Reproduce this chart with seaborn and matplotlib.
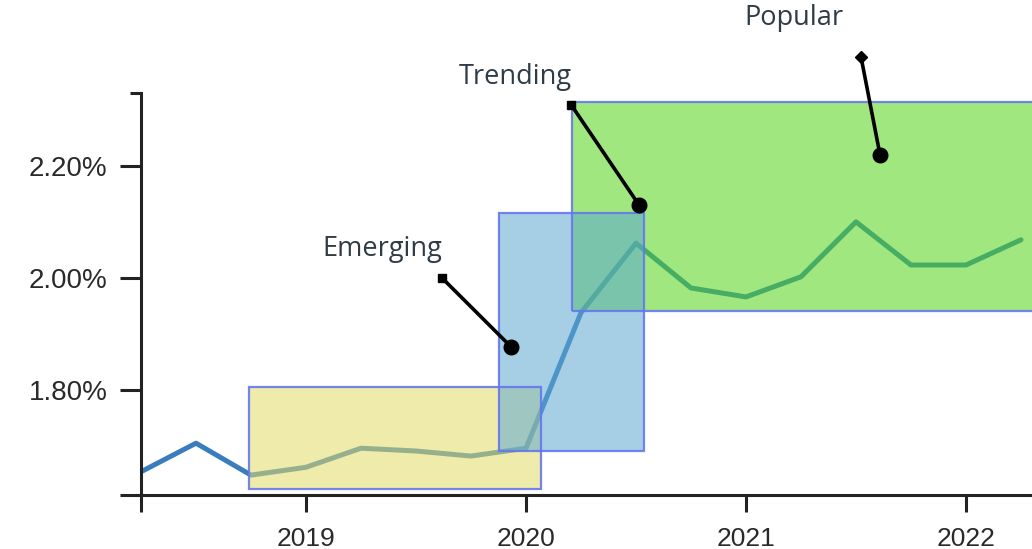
from matplotlib import pyplot as plt
from matplotlib.patches import Rectangle
from matplotlib.ticker import FuncFormatter
import pandas as pd
import seaborn as sns

# quarterly share of searches (%)
quarters = [2018.25, 2018.5, 2018.75, 2019.0, 2019.25, 2019.5, 2019.75, 2020.0, 2020.25,
            2020.5, 2020.75, 2021.0, 2021.25, 2021.5, 2021.75, 2022.0, 2022.25]
share = [1.654, 1.705, 1.648, 1.662, 1.696, 1.691, 1.682, 1.696, 1.938,
         2.062, 1.982, 1.966, 2.002, 2.100, 2.023, 2.023, 2.068]

# lifecycle stages: name, x-range, y-range
stages = ["Emerging", "Popular", "Trending"]
stage_x0 = [2018.74, 2020.209, 2019.877]
stage_x1 = [2020.07, 2022.6, 2020.536]
stage_y0 = [1.623, 1.941, 1.691]
stage_y1 = [1.805, 2.314, 2.116]

year_ticks = [2019, 2020, 2021, 2022]
year_labels = ["2019", "2020", "2021", "2022"]
pct_ticks = [1.80, 2.00, 2.20]

# layout / style for the stage boxes and callouts
stage_colors = {"Emerging": "#e3db66", "Popular": "#52d518", "Trending": "#5da8d2"}
callouts = {  # text pos, line start, line end, start marker
    "Emerging": ((2019.345, 2.052), (2019.618, 2.000), (2019.932, 1.877), "s"),
    "Trending": ((2019.95, 2.359), (2020.205, 2.309), (2020.514, 2.130), "s"),
    "Popular": ((2021.218, 2.464), (2021.523, 2.394), (2021.609, 2.220), "D"),
}

df = pd.DataFrame({"quarter": quarters, "share": share})

sns.set_style("ticks")
fig = plt.figure(figsize=(10.32, 5.49), dpi=100)
ax = fig.add_axes([141 / 1032, 54 / 549, 1 - 141 / 1032, (495 - 93) / 549])

sns.lineplot(data=df, x="quarter", y="share", ax=ax, color="#3a7dbd", linewidth=3.6, zorder=2)

for name, x0, x1, y0, y1 in zip(stages, stage_x0, stage_x1, stage_y0, stage_y1):
    ax.add_patch(Rectangle((x0, y0), x1 - x0, y1 - y0, facecolor=stage_colors[name],
                           alpha=0.55, edgecolor="none", zorder=3))
    ax.add_patch(Rectangle((x0, y0), x1 - x0, y1 - y0, facecolor="none",
                           edgecolor="#6577f0", linewidth=1.6, alpha=0.9, zorder=4))

for name, (txt, p0, p1, mk) in callouts.items():
    ax.plot([p0[0], p1[0]], [p0[1], p1[1]], color="black", linewidth=2.6,
            clip_on=False, zorder=5)
    ax.plot([p0[0]], [p0[1]], marker=mk, color="black", markersize=6 if mk == "s" else 6.5,
            clip_on=False, zorder=5)
    ax.plot([p1[0]], [p1[1]], marker="o", color="black", markersize=10.5,
            clip_on=False, zorder=5)
    ax.text(txt[0], txt[1], name, ha="center", va="center", fontsize=19.5,
            family="Open Sans", color="#2f3b45", clip_on=False)

ax.set_xlim(2018.25, 2018.25 + (1032 - 141) / 220)
ax.set_ylim(1.6125, 2.330)

ax.set_xticks([2018.25] + year_ticks)
ax.set_xticklabels([""] + year_labels)
ax.set_yticks([1.6125] + pct_ticks)
ax.yaxis.set_major_formatter(FuncFormatter(lambda v, p: "" if v < 1.7 else f"{v:.2f}%"))
ax.set_yticks([2.330], minor=True)

ax.tick_params(axis="x", length=12, width=2.2, color="#222222", pad=11,
               labelsize=19, labelcolor="#2a2a2a")
ax.tick_params(axis="y", length=15, width=2.2, color="#222222", pad=9,
               labelsize=20, labelcolor="#2a2a2a")
ax.tick_params(axis="y", which="minor", length=8, width=2.2, color="#222222")
for lab in ax.get_xticklabels() + ax.get_yticklabels():
    lab.set_family("Liberation Sans")

ax.set(xlabel="", ylabel="")
sns.despine(ax=ax)
for side in ["left", "bottom"]:
    ax.spines[side].set_linewidth(2.2)
    ax.spines[side].set_color("#222222")

plt.savefig("out.png", dpi=100)
